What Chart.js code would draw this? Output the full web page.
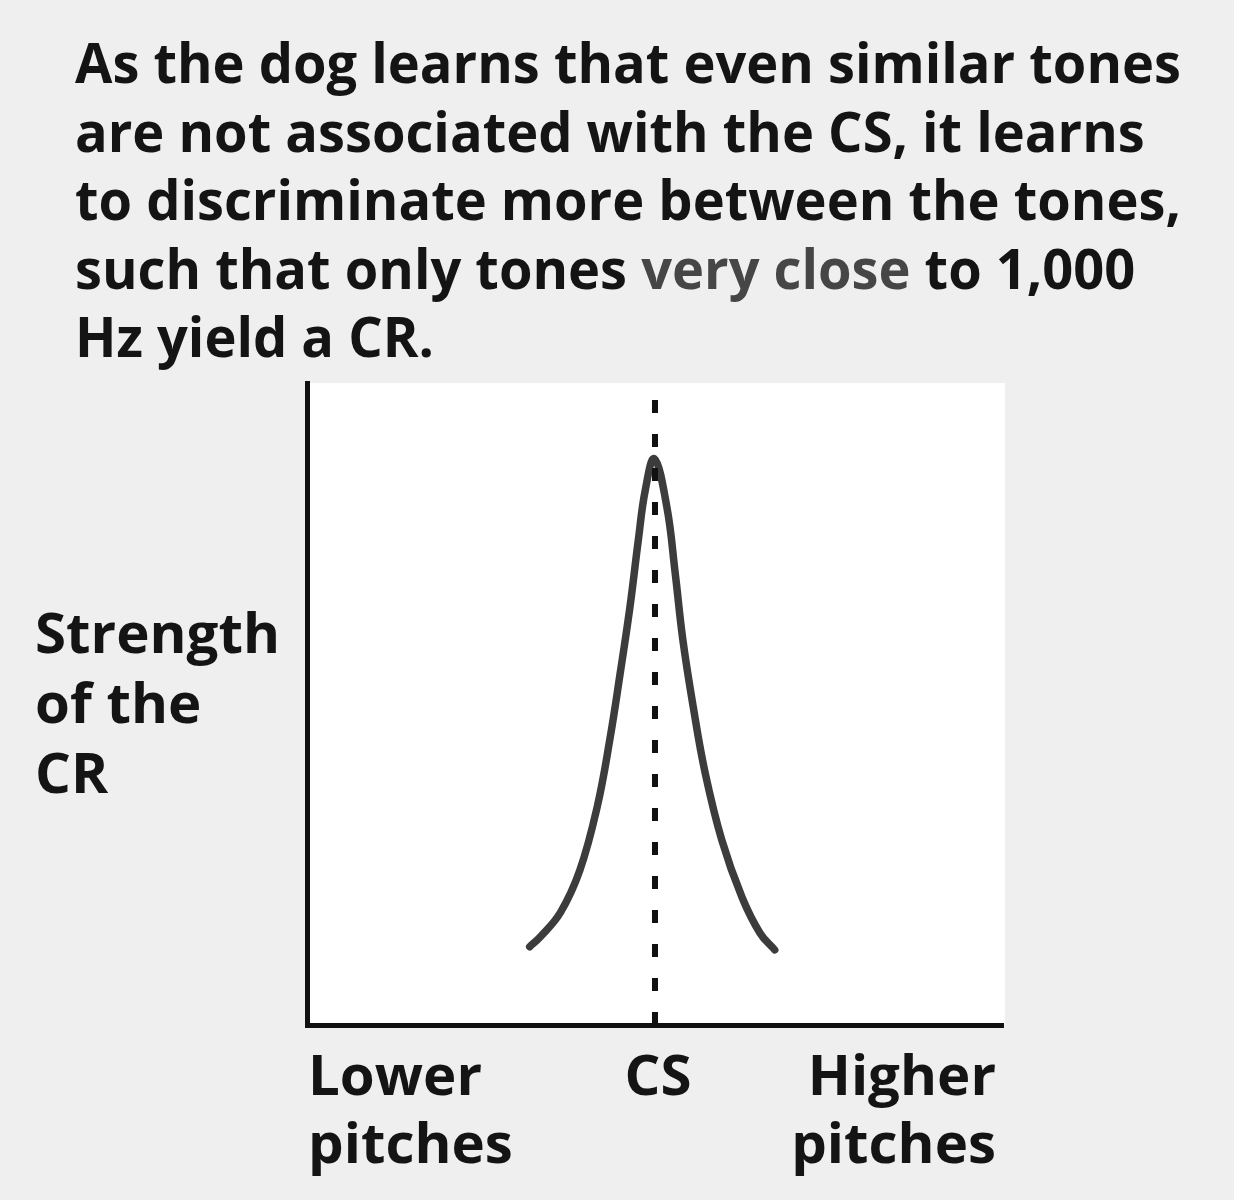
<!DOCTYPE html>
<html>
<head>
<meta charset="utf-8">
<script src="https://cdn.jsdelivr.net/npm/chart.js@4.4.1/dist/chart.umd.min.js"></script>
<style>
  html, body { margin: 0; padding: 0; background: #efefef; }
  canvas { display: block; }
</style>
</head>
<body>
<canvas id="mycanvas" width="1234" height="1200"></canvas>
<script>
// response curve (x: pitch 0..100, CS at 50; y: strength 0..100)
var curveX = [32.0, 33.5, 36.4, 39.2, 41.7, 43.5, 45.0, 46.4, 47.6, 48.6, 49.9,
              51.7, 52.9, 54.0, 55.5, 57.2, 59.6, 62.5, 65.1, 67.2];
var curveY = [12.2, 13.7, 17.5, 24.1, 34.0, 44.4, 54.8, 65.1, 75.5, 83.3, 88.2,
              80.7, 70.4, 60.0, 49.5, 39.3, 28.8, 19.9, 14.3, 11.7];

// dotted CS marker
var csX = [50, 50];
var csY = [0, 100];

// tick labels
var xTickValues = [0, 50, 100];
var xTickLabels = [["Lower", "pitches"], ["CS"], ["Higher", "pitches"]];
var yLabel = ["Strength", "of the", "CR"];

// caption, one entry per line; [text, highlighted]
var caption = [
  [["As the dog learns that even similar tones", false]],
  [["are not associated with the CS, it learns", false]],
  [["to discriminate more between the tones,", false]],
  [["such that only tones ", false], ["very close", true], [" to 1,000", false]],
  [["Hz yield a CR.", false]]
];

var FONT = '700 56px "Open Sans"';
var INK = '#141414';
var SOFT = '#464646';

function pts(xs, ys) {
  var out = [];
  for (var i = 0; i < xs.length; i++) out.push({x: xs[i], y: ys[i]});
  return out;
}

var plotBg = {
  id: 'plotBg',
  beforeDraw: function(chart) {
    var a = chart.chartArea, ctx = chart.ctx;
    ctx.save();
    ctx.fillStyle = '#ffffff';
    ctx.fillRect(a.left, a.top, a.right - a.left + 2, a.bottom - a.top);
    ctx.restore();
  }
};

var texts = {
  id: 'texts',
  afterDraw: function(chart) {
    var ctx = chart.ctx, xs = chart.scales.x, a = chart.chartArea;
    ctx.save();
    ctx.setTransform(1, 0, 0, 1, 0, 0);
    ctx.font = FONT;
    ctx.textAlign = 'left';
    ctx.textBaseline = 'alphabetic';

    // caption: first line is 1106px wide in the picture
    var tx = 1106 / ctx.measureText(caption[0][0][0]).width;
    for (var i = 0; i < caption.length; i++) {
      ctx.save();
      ctx.translate(75, 83 + i * 68.5);
      ctx.scale(tx, 1);
      var x = 0;
      caption[i].forEach(function(seg) {
        ctx.fillStyle = seg[1] ? SOFT : INK;
        ctx.fillText(seg[0], x, 0);
        x += ctx.measureText(seg[0]).width;
      });
      ctx.restore();
    }

    // axis labels: "Strength" is 245px wide in the picture
    ctx.fillStyle = INK;
    var sx = 245 / ctx.measureText('Strength').width;
    var aligns = ['left', 'center', 'right'];
    for (var i2 = 0; i2 < xTickValues.length; i2++) {
      var px = xs.getPixelForValue(xTickValues[i2]);
      if (i2 === 0) px += 1;
      if (i2 === 1) px += 3;
      if (i2 === 2) px -= 7;
      for (var j = 0; j < xTickLabels[i2].length; j++) {
        var t = xTickLabels[i2][j];
        var w = ctx.measureText(t).width * sx;
        var left = aligns[i2] === 'left' ? px : (aligns[i2] === 'center' ? px - w / 2 : px - w);
        ctx.save();
        ctx.translate(left, a.bottom + 70 + j * 68);
        ctx.scale(sx, 1);
        ctx.fillText(t, 0, 0);
        ctx.restore();
      }
    }
    for (var k = 0; k < yLabel.length; k++) {
      ctx.save();
      ctx.translate(35, 653 + k * 70);
      ctx.scale(sx, 1);
      ctx.fillText(yLabel[k], 0, 0);
      ctx.restore();
    }
    ctx.restore();
  }
};

var ctx = document.getElementById('mycanvas');
var chart = new Chart(ctx, {
  type: 'line',
  data: {
    datasets: [
      {
        label: 'CS',
        data: pts(csX, csY),
        borderColor: '#111111',
        borderWidth: 6,
        borderDash: [13, 21],
        pointRadius: 0,
        fill: false
      },
      {
        label: 'CR strength',
        data: pts(curveX, curveY),
        borderColor: '#3c3c3c',
        borderWidth: 7.5,
        borderCapStyle: 'round',
        tension: 0.4,
        pointRadius: 0,
        fill: false
      }
    ]
  },
  options: {
    responsive: false,
    animation: false,
    layout: { padding: { left: 307, top: 383, right: 231, bottom: 175 } },
    plugins: { legend: { display: false }, tooltip: { enabled: false }, title: { display: false } },
    scales: {
      x: {
        type: 'linear', min: 0, max: 100,
        grid: { display: false, drawTicks: false },
        ticks: { display: false },
        border: { display: true, color: '#111111', width: 5 }
      },
      y: {
        type: 'linear', min: 0, max: 100,
        grid: { display: false, drawTicks: false },
        ticks: { display: false },
        border: { display: true, color: '#111111', width: 5 }
      }
    }
  },
  plugins: [plotBg, texts]
});
</script>
</body>
</html>
